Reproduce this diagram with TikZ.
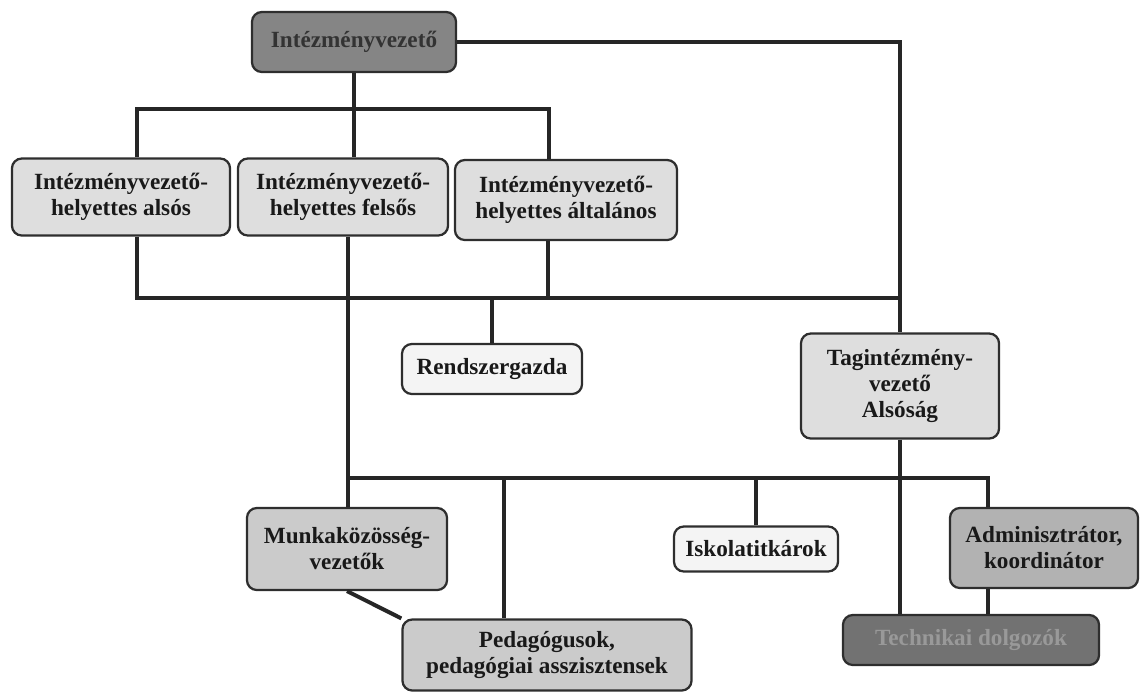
\documentclass[tikz,border=0pt]{standalone}
\usepackage{fontspec}
\setmainfont{Liberation Serif}
\definecolor{boxline}{HTML}{2E2E2E}
\definecolor{linegray}{HTML}{262626}
\definecolor{headfill}{HTML}{858585}
\definecolor{lightfill}{HTML}{DEDEDE}
\definecolor{whitefill}{HTML}{F4F4F4}
\definecolor{midfill}{HTML}{CBCBCB}
\definecolor{adminfill}{HTML}{B2B2B2}
\definecolor{darkfill}{HTML}{727272}
\begin{document}
\begin{tikzpicture}[x=0.025cm, y=-0.025cm,
    orgbox/.style={draw=boxline, line width=1.6pt, rounded corners=7pt,
        align=center, inner sep=2pt, text=black!90,
        font=\fontsize{16.5}{18.5}\selectfont\bfseries},
    conn/.style={line width=2.8pt, draw=linegray}]
        \useasboundingbox (0,0) rectangle (1140,693);
        % boxes
        \node[orgbox, fill=headfill, text=black!80, minimum width=5.1cm, minimum height=1.5cm] (head) at (354,42) {Intézményvezető};
        \node[orgbox, fill=lightfill, minimum width=5.45cm, minimum height=1.925cm] (alsos) at (121,197) {Intézményvezető-\\helyettes alsós};
        \node[orgbox, fill=lightfill, minimum width=5.25cm, minimum height=1.925cm] (felsos) at (343,197) {Intézményvezető-\\helyettes felsős};
        \node[orgbox, fill=lightfill, minimum width=5.55cm, minimum height=2cm] (altalanos) at (566,200) {Intézményvezető-\\helyettes általános};
        \node[orgbox, fill=whitefill, minimum width=4.5cm, minimum height=1.25cm] (rendszer) at (492,369) {Rendszergazda};
        \node[orgbox, fill=lightfill, minimum width=4.95cm, minimum height=2.625cm] (tag) at (900,386) {Tagintézmény-\\vezető\\Alsóság};
        \node[orgbox, fill=midfill, minimum width=5cm, minimum height=2.05cm] (munka) at (347,549) {Munkaközösség-\\vezetők};
        \node[orgbox, fill=midfill, minimum width=7.225cm, minimum height=1.775cm] (ped) at (547,655) {Pedagógusok,\\pedagógiai asszisztensek};
        \node[orgbox, fill=whitefill, minimum width=4.1cm, minimum height=1.125cm] (iskola) at (756,549) {Iskolatitkárok};
        \node[orgbox, fill=adminfill, minimum width=4.7cm, minimum height=2cm] (admin) at (1044,548) {Adminisztrátor,\\koordinátor};
        \node[orgbox, fill=darkfill, text=black!40, minimum width=6.4cm, minimum height=1.25cm] (tech) at (971,640) {Technikai dolgozók};
        % bus points
        \coordinate (b1l) at (137,109);
        \coordinate (b1r) at (549,109);
        \coordinate (b2l) at (137,298);
        \coordinate (b2a) at (548,298);
        \coordinate (b3l) at (348,478);
        \coordinate (b3p) at (504,478);
        \coordinate (b3r) at (988,478);
        % connectors
        \draw[conn] (head.south) -- (head.south |- felsos.north);
        \draw[conn] (alsos.north -| b1l) -- (b1l) -- (b1r) -- (altalanos.north -| b1r);
        \draw[conn] (alsos.south -| b2l) -- (b2l) -- (b2l -| tag.north);
        \draw[conn] (altalanos.south -| b2a) -- (b2a);
        \draw[conn] (rendszer.north) -- (rendszer.north |- b2l);
        \draw[conn] (head.east) -- (head.east -| tag.north) -- (tag.north);
        \draw[conn] (felsos.south -| b3l) -- (munka.north -| b3l);
        \draw[conn] (b3l) -- (b3r) -- (admin.north -| b3r);
        \draw[conn] (b3p) -- (ped.north -| b3p);
        \draw[conn] (iskola.north) -- (iskola.north |- b3l);
        \draw[conn] (tag.south) -- (tag.south |- tech.north);
        \draw[conn] (admin.south -| b3r) -- (tech.north -| b3r);
        \draw[conn] (munka.south) -- (ped.north west);
\end{tikzpicture}
\end{document}
